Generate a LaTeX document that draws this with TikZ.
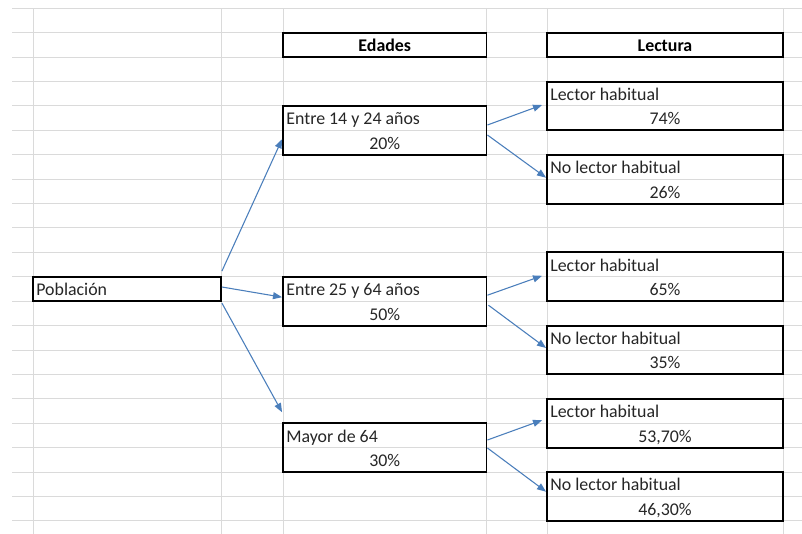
\documentclass[tikz,border=0pt]{standalone}
\usepackage{fontspec}
\setmainfont{Carlito}
\usetikzlibrary{arrows.meta,positioning,calc}
\definecolor{XLGrid}{HTML}{DADADA}
\definecolor{XLBlue}{HTML}{4A7EBB}
\definecolor{XLInk}{HTML}{262626}
\newdimen\px \px=0.75pt
\tikzset{
  grid/.style={XLGrid,line width=0.75pt},
  flow/.style={-{Triangle[length=6.8pt,width=5.2pt]},XLBlue,line width=0.8pt,shorten <=0pt},
  cell/.style={draw=black,line width=1.4pt,inner sep=0pt},
  onecell/.style={cell,minimum height=24.4\px},
  twocell/.style={cell,minimum height=48.8\px},
  txt/.style={text=XLInk,font=\fontsize{13.4}{16}\selectfont,inner sep=0pt},
  head/.style={txt,font=\fontsize{13.4}{16}\selectfont\bfseries,text=black},
}
\begin{document}
\begin{tikzpicture}[x=0.75pt,y=-0.75pt]
  \useasboundingbox (0,0) rectangle (802,534);
  \fill[white] (0,0) rectangle (802,534);
  % sheet grid
  \foreach \k in {0,...,21}
    \draw[grid] (12,{8.4+24.4*\k}) -- (802,{8.4+24.4*\k});
  \foreach \gx in {33,221,283,486.5,547,783}
    \draw[grid] (\gx,8.4) -- (\gx,534);
  % headers
  \node[onecell,minimum width=203.5\px] (edades) at (384.75,{8.4+24.4*1.5}) {};
  \node[head,anchor=base] (edades-t) at ([yshift=-5pt]edades.center) {Edades};
  \node[onecell,minimum width=236\px] (lectura) at (665,{8.4+24.4*1.5}) {};
  \node[head,anchor=base] (lectura-t) at ([yshift=-5pt]lectura.center) {Lectura};
  % root
  \node[onecell,minimum width=188\px] (pob) at (127,{8.4+24.4*11.5}) {};
  \node[txt,anchor=base west] (pob-t) at ([xshift=4\px,yshift=-5pt]pob.west) {Población};
  % age groups
  \node[twocell,minimum width=203.5\px] (e14) at (384.75,{8.4+24.4*5}) {};
  \node[txt,anchor=base west] (e14-a) at ([xshift=4\px,yshift=4.1pt]e14.west) {Entre 14 y 24 años};
  \node[txt,anchor=base] (e14-b) at ([yshift=-14.2pt]e14.center) {20\%};
  \node[twocell,minimum width=203.5\px] (e25) at (384.75,{8.4+24.4*12}) {};
  \node[txt,anchor=base west] (e25-a) at ([xshift=4\px,yshift=4.1pt]e25.west) {Entre 25 y 64 años};
  \node[txt,anchor=base] (e25-b) at ([yshift=-14.2pt]e25.center) {50\%};
  \node[twocell,minimum width=203.5\px] (m64) at (384.75,{8.4+24.4*18}) {};
  \node[txt,anchor=base west] (m64-a) at ([xshift=4\px,yshift=4.1pt]m64.west) {Mayor de 64};
  \node[txt,anchor=base] (m64-b) at ([yshift=-14.2pt]m64.center) {30\%};
  % reading
  \node[twocell,minimum width=236\px] (lh1) at (665,{8.4+24.4*4}) {};
  \node[txt,anchor=base west] (lh1-a) at ([xshift=4\px,yshift=4.1pt]lh1.west) {Lector habitual};
  \node[txt,anchor=base] (lh1-b) at ([yshift=-14.2pt]lh1.center) {74\%};
  \node[twocell,minimum width=236\px] (nl1) at (665,{8.4+24.4*7}) {};
  \node[txt,anchor=base west] (nl1-a) at ([xshift=4\px,yshift=4.1pt]nl1.west) {No lector habitual};
  \node[txt,anchor=base] (nl1-b) at ([yshift=-14.2pt]nl1.center) {26\%};
  \node[twocell,minimum width=236\px] (lh2) at (665,{8.4+24.4*11}) {};
  \node[txt,anchor=base west] (lh2-a) at ([xshift=4\px,yshift=4.1pt]lh2.west) {Lector habitual};
  \node[txt,anchor=base] (lh2-b) at ([yshift=-14.2pt]lh2.center) {65\%};
  \node[twocell,minimum width=236\px] (nl2) at (665,{8.4+24.4*14}) {};
  \node[txt,anchor=base west] (nl2-a) at ([xshift=4\px,yshift=4.1pt]nl2.west) {No lector habitual};
  \node[txt,anchor=base] (nl2-b) at ([yshift=-14.2pt]nl2.center) {35\%};
  \node[twocell,minimum width=236\px] (lh3) at (665,{8.4+24.4*17}) {};
  \node[txt,anchor=base west] (lh3-a) at ([xshift=4\px,yshift=4.1pt]lh3.west) {Lector habitual};
  \node[txt,anchor=base] (lh3-b) at ([yshift=-14.2pt]lh3.center) {53,70\%};
  \node[twocell,minimum width=236\px] (nl3) at (665,{8.4+24.4*20}) {};
  \node[txt,anchor=base west] (nl3-a) at ([xshift=4\px,yshift=4.1pt]nl3.west) {No lector habitual};
  \node[txt,anchor=base] (nl3-b) at ([yshift=-14.2pt]nl3.center) {46,30\%};
  % branches
  \draw[flow] ([yshift=4.8\px]pob.north east) -- ([yshift=-8.8\px]e14.west);
  \draw[flow] ([yshift=2\px]pob.east) -- ([yshift=4\px]e25.west);
  \draw[flow] ([yshift=-1\px]pob.south east) -- ([yshift=10\px]m64.north west);
  \draw[flow] ([yshift=5.4\px]e14.east) -- ([xshift=-4\px,yshift=1\px]lh1.west);
  \draw[flow] ([yshift=-4.6\px]e14.east) -- ([yshift=1.5\px]nl1.west);
  \draw[flow] ([yshift=6\px]e25.east) -- ([xshift=-4\px,yshift=1\px]lh2.west);
  \draw[flow] ([xshift=1\px,yshift=-4\px]e25.east) -- ([yshift=2\px]nl2.west);
  \draw[flow] ([yshift=7.6\px]m64.east) -- ([xshift=-4\px,yshift=3\px]lh3.west);
  \draw[flow] ([yshift=-0.4\px]m64.east) -- ([yshift=4.7\px]nl3.west);
\end{tikzpicture}
\end{document}
